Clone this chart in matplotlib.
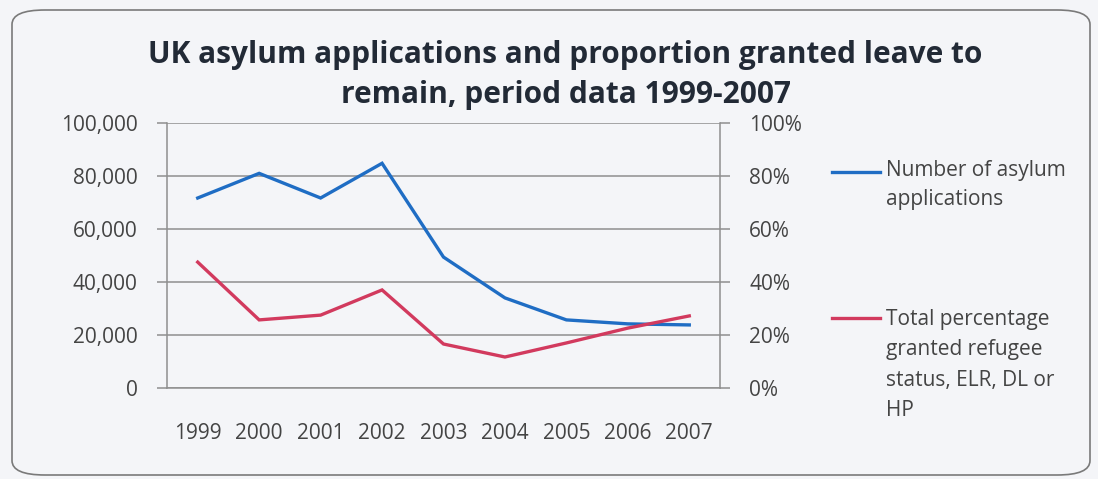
import numpy as np
import matplotlib
matplotlib.use("Agg")
import matplotlib.pyplot as plt
from matplotlib.patches import FancyBboxPatch
from matplotlib.lines import Line2D
from matplotlib.ticker import FuncFormatter

plt.rcParams['font.family'] = ['Open Sans', 'DejaVu Sans']

years = ['1999', '2000', '2001', '2002', '2003', '2004', '2005', '2006', '2007']
applications = [71700, 81000, 71700, 84800, 49400, 34000, 25700, 24200, 23800]
pct_granted = [47.5, 25.7, 27.5, 37.0, 16.6, 11.7, 17.0, 22.6, 27.2]

blue = '#1f6dc4'
red = '#d23a5e'
grid_c = '#8f8f8f'
txt_c = '#444444'
bg = '#f4f5f8'

W, H = 1098, 479
fig = plt.figure(figsize=(W / 100, H / 100), dpi=100, facecolor=bg)

# rounded chart border
box = FancyBboxPatch((12 / W, 4 / H), 1078 / W, 465 / H,
                     boxstyle="round,pad=0,rounding_size=0.03",
                     transform=fig.transFigure, facecolor='none',
                     edgecolor='#7a7a7a', linewidth=1.2)
fig.add_artist(box)

ax = fig.add_axes([167 / W, (H - 388) / H, (720 - 167) / W, (388 - 123) / H])
ax.set_facecolor('none')
x = np.arange(len(years))

ax.plot(x, applications, color=blue, lw=2.4, solid_joinstyle='miter')
ax.set_ylim(0, 100000)
ax.set_xlim(-0.5, len(years) - 0.5)
ax.set_yticks(np.arange(0, 100001, 20000))
ax.yaxis.set_major_formatter(FuncFormatter(lambda v, p: f'{int(v):,}'))
ax.grid(axis='y', color=grid_c, lw=1.1)
ax.set_axisbelow(True)
ax.set_xticks(x)
ax.set_xticklabels(years)
ax.tick_params(axis='x', length=0, pad=25, labelsize=15, colors=txt_c)
ax.tick_params(axis='y', length=7, width=1.1, color=grid_c, pad=14,
               labelsize=15, labelcolor=txt_c)
for s in ['left', 'right', 'bottom']:
    ax.spines[s].set_color(grid_c)
    ax.spines[s].set_linewidth(1.1)
ax.spines['top'].set_visible(False)

ax2 = ax.twinx()
ax2.plot(x, pct_granted, color=red, lw=2.4, solid_joinstyle='miter')
ax2.set_ylim(0, 100)
ax2.set_yticks(np.arange(0, 101, 20))
ax2.yaxis.set_major_formatter(FuncFormatter(lambda v, p: f'{int(v)}%'))
ax2.tick_params(axis='y', length=7, width=1.1, color=grid_c, pad=14,
                labelsize=15, labelcolor=txt_c)
for s in ax2.spines.values():
    s.set_visible(False)

# title
fig.text(565 / W, 1 - 63 / H, 'UK asylum applications and proportion granted leave to',
         ha='center', va='baseline', fontsize=21.5, fontweight='bold', color='#222a36')
fig.text(566 / W, 1 - 103 / H, 'remain, period data 1999-2007',
         ha='center', va='baseline', fontsize=21.5, fontweight='bold', color='#222a36')

# legend
fig.add_artist(Line2D([832 / W, 880 / W], [1 - 172 / H, 1 - 172 / H], color=blue, lw=2.4,
                      transform=fig.transFigure))
fig.add_artist(Line2D([832 / W, 880 / W], [1 - 318 / H, 1 - 318 / H], color=red, lw=2.4,
                      transform=fig.transFigure))
fig.text(886 / W, 1 - 176 / H, 'Number of asylum', ha='left', va='baseline',
         fontsize=15, color=txt_c)
fig.text(886 / W, 1 - 205 / H, 'applications', ha='left', va='baseline',
         fontsize=15, color=txt_c)
leg2 = ['Total percentage', 'granted refugee', 'status, ELR, DL or', 'HP']
for i, t in enumerate(leg2):
    fig.text(886 / W, 1 - (325 + 30.5 * i) / H, t, ha='left', va='baseline',
             fontsize=15, color=txt_c)

fig.savefig('out.png', dpi=100, facecolor=bg)
